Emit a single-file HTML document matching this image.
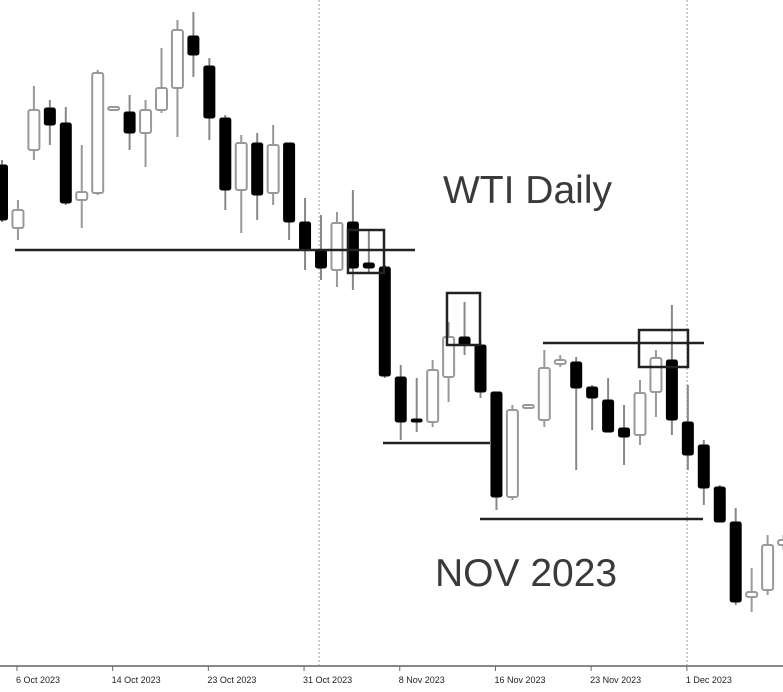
<!DOCTYPE html>
<html><head><meta charset="utf-8"><style>
html,body{margin:0;padding:0;background:#fff;}
svg{display:block;font-family:"Liberation Sans",sans-serif;}
</style></head><body>
<svg id="chart" width="783" height="692" viewBox="0 0 783 692"></svg>
<script>
// price units: value = 700 - pixelY (arbitrary scale)
const opens  = [535,472,550,592,577,500,507,593,588,567,590,612,664,634,582,510,557,507,557,478,450,430,478,437,433,323,281,278,323,363,355,308,203,295,280,336,338,313,300,272,265,308,340,278,255,213,178,103,110,155];
const closes = [480,490,590,575,497,508,627,593,567,590,612,670,645,582,510,557,505,555,478,450,432,477,432,432,324,278,280,330,363,355,308,203,290,295,332,340,312,302,268,263,307,342,280,245,212,178,98,108,155,160];
const highs  = [540,500,614,600,593,555,630,593,605,600,652,680,688,642,585,565,567,575,557,502,485,488,510,470,435,335,322,340,378,398,360,308,295,295,350,345,343,315,322,295,320,350,395,315,260,215,192,132,165,165];
const lows   = [478,460,540,555,495,472,505,592,550,533,587,563,623,560,490,467,480,495,460,430,420,413,410,428,322,260,268,273,298,345,302,190,200,294,273,333,230,270,268,235,255,283,265,230,195,178,95,88,105,150];
const dateLabels = ["6 Oct 2023","14 Oct 2023","23 Oct 2023","31 Oct 2023","8 Nov 2023","16 Nov 2023","23 Nov 2023","1 Dec 2023"];
const dateIdx = [1,7,13,19,25,31,37,43];
const NS="http://www.w3.org/2000/svg";
const svg=document.getElementById('chart');
const x0=2, step=15.95;
const xScale=i=>x0+i*step;
const yScale=v=>700-v;
function mk(tag,attrs,parent){const e=document.createElementNS(NS,tag);for(const k in attrs)e.setAttribute(k,attrs[k]);(parent||svg).appendChild(e);return e;}
[319,687].forEach(x=>{const l=mk('line',{x1:x,y1:0,x2:x,y2:666,stroke:'#999','stroke-width':1,'stroke-dasharray':'2,2'});

});
const t1=mk('text',{x:443,y:203,'font-size':39,fill:'#3a3a3a'});t1.textContent='WTI Daily';


const t2=mk('text',{x:435,y:586,'font-size':39,fill:'#3a3a3a'});t2.textContent='NOV 2023';


const n=Math.min(opens.length,highs.length,lows.length,closes.length);
for(let i=0;i<n;i++){
  const g=mk('g',{});
  
  
  const x=xScale(i),o=opens[i],c=closes[i];
  const bull=c>=o;
  mk('line',{x1:x,y1:yScale(highs[i]),x2:x,y2:yScale(lows[i]),stroke:bull?'#999':'#888','stroke-width':2},g);
  const top=yScale(Math.max(o,c)),bot=yScale(Math.min(o,c));
  const h=Math.max(bot-top,3);
  mk('rect',{x:x-5.5,y:top,width:11,height:h,rx:2,fill:bull?'#fff':'#000',stroke:bull?'#999':'#000','stroke-width':bull?2:1},g);
}
[[15,250,415],[383,443,490],[480,519,703],[543,343,704]].forEach(a=>{const l=mk('line',{x1:a[0],y1:a[1],x2:a[2],y2:a[1],stroke:'#222','stroke-width':2.5});

});
[[348,230,36,43],[447,293,33,52],[639,330,49,37]].forEach(b=>{const r=mk('rect',{x:b[0],y:b[1],width:b[2],height:b[3],fill:'none',stroke:'#222','stroke-width':2.5});

});
const ax=mk('line',{x1:0,y1:666,x2:783,y2:666,stroke:'#888','stroke-width':2});


dateLabels.forEach((s,k)=>{const x=xScale(dateIdx[k])-1;
  const tk=mk('line',{x1:x,y1:666,x2:x,y2:671,stroke:'#666','stroke-width':1});
  
  
  const t=mk('text',{x:x-1,y:683,'font-size':9,fill:'#222'});t.textContent=s;
  
  
});
</script>
</body></html>
